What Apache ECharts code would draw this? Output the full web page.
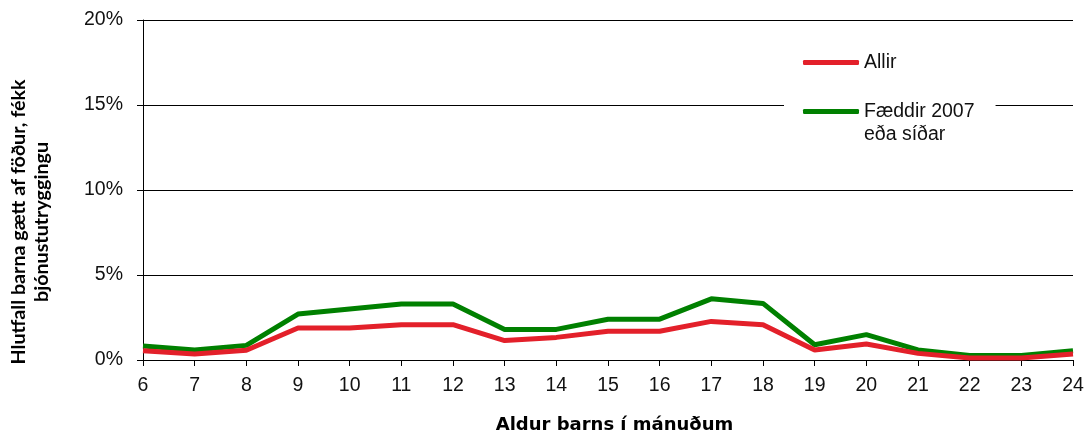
<!DOCTYPE html>
<html>
<head>
<meta charset="utf-8">
<script src="https://cdn.jsdelivr.net/npm/echarts@6/dist/echarts.min.js"></script>
<style>
html,body{margin:0;padding:0;background:#fff;}
#chart{width:1086px;height:432px;}
</style>
</head>
<body>
<div id="chart"></div>
<script>
const categories = ['6','7','8','9','10','11','12','13','14','15','16','17','18','19','20','21','22','23','24'];
const allir = [0.55,0.35,0.57,1.88,1.88,2.08,2.08,1.14,1.33,1.69,1.69,2.27,2.08,0.59,0.94,0.39,0.12,0.12,0.35];
const faeddir = [0.82,0.59,0.86,2.7,3.0,3.3,3.3,1.8,1.8,2.4,2.4,3.6,3.33,0.9,1.49,0.59,0.27,0.27,0.55];
const seriesNames = ['Allir','Fæddir 2007 eða síðar'];
const legendLabels = {'Allir':'Allir','Fæddir 2007 eða síðar':' \nFæddir 2007\neða síðar'};
const yTicks = {min:0,max:20,interval:5};
const xTitle = 'Aldur barns í mánuðum';
const yTitle = 'Hlutfall barna gætt af föður, fékk\nbjónustutryggingu';

const tickFont = 'Liberation Sans, Arial, sans-serif';

const chart = echarts.init(document.getElementById('chart'), null, {renderer:'canvas'});
chart.setOption({
  animation:false,
  backgroundColor:'#fff',
  grid:{left:143,right:13,top:20,bottom:72,containLabel:false,outerBoundsMode:'none'},
  legend:{
    orient:'vertical',
    left:784,
    top:51,
    padding:[0,21,0,19],
    backgroundColor:'#fff',
    itemGap:3,
    itemWidth:56,
    itemHeight:5,
    icon:'roundRect',
    data:seriesNames,
    formatter:function(n){return legendLabels[n];},
    textStyle:{fontFamily:tickFont,fontSize:19.5,color:'#111',lineHeight:23}
  },
  xAxis:{
    type:'category',
    data:categories,
    boundaryGap:false,
    axisLine:{lineStyle:{color:'#000',width:1}},
    axisTick:{show:true,length:6,interval:0,lineStyle:{color:'#000'}},
    axisLabel:{interval:0,margin:16,fontFamily:tickFont,fontSize:19.5,color:'#111'},
    name:xTitle,
    nameLocation:'middle',
    nameGap:56,
    nameTextStyle:{fontFamily:'DejaVu Sans, sans-serif',fontWeight:'bold',fontSize:18,color:'#000',padding:[0,0,0,13]}
  },
  yAxis:{
    type:'value',
    min:yTicks.min,max:yTicks.max,interval:yTicks.interval,
    axisLine:{show:true,lineStyle:{color:'#000',width:1}},
    axisTick:{show:true,length:6,lineStyle:{color:'#000'}},
    splitLine:{show:true,lineStyle:{color:'#000',width:1}},
    axisLabel:{margin:20,fontFamily:tickFont,fontSize:19.5,color:'#111',formatter:'{value}%'},
    name:yTitle,
    nameLocation:'middle',
    nameRotate:90,
    nameGap:90,
    nameTextStyle:{fontFamily:'Lato, sans-serif',fontWeight:'bold',fontSize:19.7,color:'#000',lineHeight:23,align:'center',padding:[0,64,0,0]}
  },
  series:[
    {name:seriesNames[0],type:'line',data:allir,showSymbol:false,symbol:'none',
     lineStyle:{color:'#E3202A',width:5},itemStyle:{color:'#E3202A'},z:3},
    {name:seriesNames[1],type:'line',data:faeddir,showSymbol:false,symbol:'none',
     lineStyle:{color:'#008000',width:5},itemStyle:{color:'#008000'},z:2}
  ]
});
</script>
</body>
</html>
